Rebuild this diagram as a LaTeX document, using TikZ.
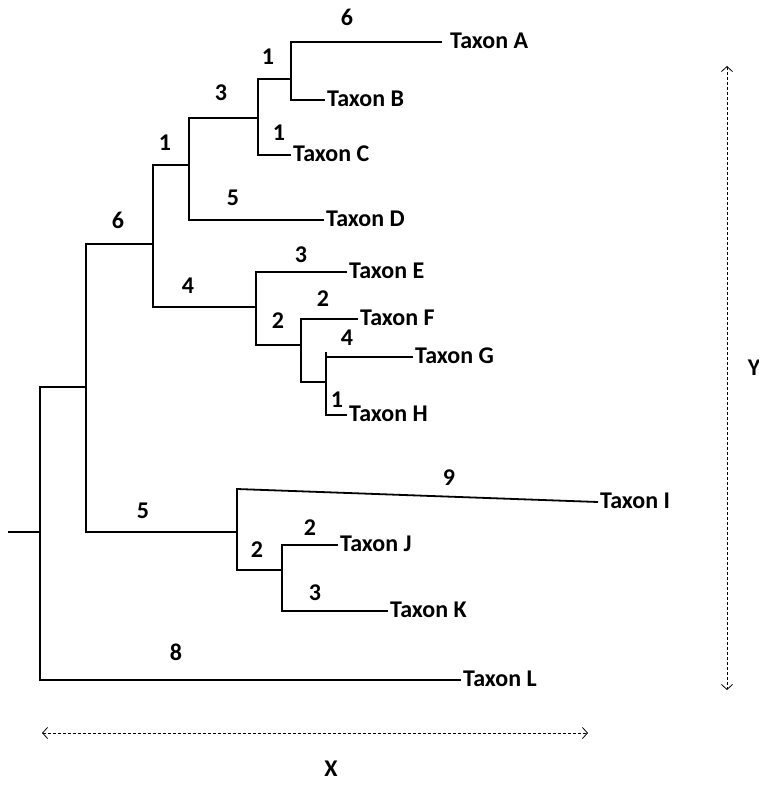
\documentclass[tikz,border=0pt]{standalone}
\usepackage{fontspec}
\setmainfont{Carlito}
\usetikzlibrary{arrows.meta}

\begin{document}
\begin{tikzpicture}[
  x=1pt, y=-1pt,
  font=\fontsize{24}{27}\selectfont\bfseries,
  branch/.style={line width=1.8pt},
  taxon/.style={
    anchor=west,
    inner sep=2pt,
    text height=0.65em,
    text depth=0pt,
    yshift=-3pt
  },
  blen/.style={
    inner sep=0pt,
    text height=0.63em,
    text depth=0pt
  },
  scalebar/.style={
    densely dashed,
    line width=0.8pt,
    {Straight Barb[length=5pt,width=11pt]}-{Straight Barb[length=5pt,width=11pt]}
  }
]
\useasboundingbox (0,0) rectangle (759,785);

% Internal nodes of the tree
\coordinate (r0)   at (8,532);
\coordinate (root) at (40,532);
\coordinate (n1)   at (86,387);
\coordinate (n2)   at (153,244);
\coordinate (n3)   at (237,532);
\coordinate (n4)   at (189,165);
\coordinate (n5)   at (256,307);
\coordinate (n6)   at (258,118);
\coordinate (n7)   at (291,79);
\coordinate (n8)   at (301,345);
\coordinate (n9)   at (326,382);
\coordinate (n10)  at (282,570);
\coordinate (nI)   at (237,489);

% Tips
\coordinate (tA) at (442,42);
\coordinate (tB) at (325,100);
\coordinate (tC) at (291,155);
\coordinate (tD) at (324,220);
\coordinate (tE) at (347,272);
\coordinate (tF) at (358,319);
\coordinate (tG) at (413,357);
\coordinate (tH) at (347,415);
\coordinate (tI) at (598,502);
\coordinate (tJ) at (338,545);
\coordinate (tK) at (388,611);
\coordinate (tL) at (461,680);

% Branches
\draw[branch] (r0) -- (root);
\draw[branch] (root) |- (n1);
\draw[branch] (root) |- (tL);
\draw[branch] (n1) |- (n2);
\draw[branch] (n1) |- (n3);
\draw[branch] (n2) |- (n4);
\draw[branch] (n2) |- (n5);
\draw[branch] (n4) |- (n6);
\draw[branch] (n4) |- (tD);
\draw[branch] (n6) |- (n7);
\draw[branch] (n6) |- (tC);
\draw[branch] (n7) |- (tA);
\draw[branch] (n7) |- (tB);
\draw[branch] (n5) |- (tE);
\draw[branch] (n5) |- (n8);
\draw[branch] (n8) |- (tF);
\draw[branch] (n8) |- (n9);
\draw[branch] (n9 |- 0,352) -- (n9);
\draw[branch] (n9) |- (tG);
\draw[branch] (n9) |- (tH);
\draw[branch] (n3) -- (nI) -- (tI);
\draw[branch] (n3) |- (n10);
\draw[branch] (n10) |- (tJ);
\draw[branch] (n10) |- (tK);

% Taxon labels
\node[taxon, xshift=6pt] (labA) at (tA) {Taxon A};
\node[taxon] (labB) at (tB) {Taxon B};
\node[taxon] (labC) at (tC) {Taxon C};
\node[taxon] (labD) at (tD) {Taxon D};
\node[taxon] (labE) at (tE) {Taxon E};
\node[taxon] (labF) at (tF) {Taxon F};
\node[taxon] (labG) at (tG) {Taxon G};
\node[taxon] (labH) at (tH) {Taxon H};
\node[taxon] (labI) at (tI) {Taxon I};
\node[taxon] (labJ) at (tJ) {Taxon J};
\node[taxon] (labK) at (tK) {Taxon K};
\node[taxon] (labL) at (tL) {Taxon L};

% Branch lengths
\node[blen] (bA)  at (347,22)  {6};
\node[blen] (b7)  at (268,61)  {1};
\node[blen] (bC)  at (279,137) {1};
\node[blen] (b6)  at (221,97)  {3};
\node[blen] (bD)  at (233,202) {5};
\node[blen] (b4)  at (165,147) {1};
\node[blen] (b2)  at (118,225) {6};
\node[blen] (b5)  at (188,290) {4};
\node[blen] (bE)  at (301,259) {3};
\node[blen] (b8)  at (278,325) {2};
\node[blen] (bF)  at (323,303) {2};
\node[blen] (bG)  at (347,342) {4};
\node[blen] (bH)  at (337,404) {1};
\node[blen] (b3)  at (143,515) {5};
\node[blen] (bI)  at (449,482) {9};
\node[blen] (b10) at (257,554) {2};
\node[blen] (bJ)  at (310,532) {2};
\node[blen] (bK)  at (315,597) {3};
\node[blen] (bL)  at (176,657) {8};

% Axes
\coordinate (x0) at (42,733);
\coordinate (x1) at (588,733);
\coordinate (y0) at (727,66);
\coordinate (y1) at (727,690);
\draw[scalebar] (x0) -- (x1);
\draw[scalebar] (y0) -- (y1);
\node[blen] (xlab) at (331,773) {X};
\node[blen] (ylab) at (754,372) {Y};

\end{tikzpicture}
\end{document}
